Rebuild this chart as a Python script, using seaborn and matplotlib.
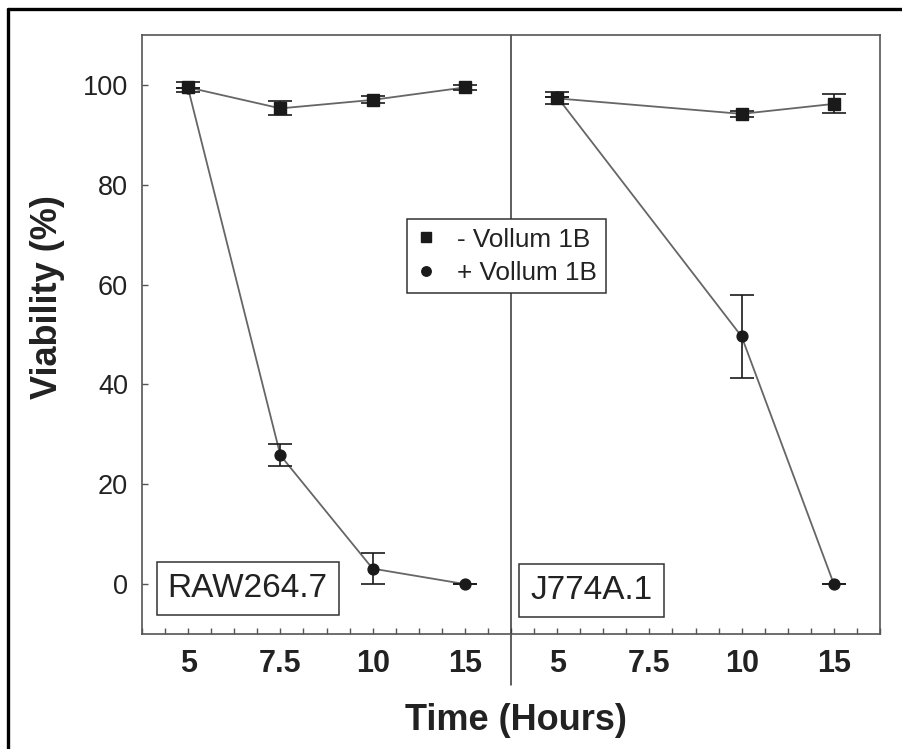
import numpy as np
import pandas as pd
import matplotlib
matplotlib.use("Agg")
import matplotlib.pyplot as plt
import matplotlib.transforms as mtransforms
from matplotlib.ticker import MultipleLocator
from matplotlib.lines import Line2D
import seaborn as sns

# ---------------- data ----------------
categories = ["5", "7.5", "10", "15"]
panels = ["RAW264.7", "J774A.1"]
series = ["- Vollum 1B", "+ Vollum 1B"]

raw_minus = [99.5, 95.3, 97.0, 99.5]
raw_minus_err = [1.0, 1.4, 0.7, 0.5]
raw_plus = [99.3, 25.8, 3.1, 0.0]
raw_plus_err = [0.0, 2.2, 3.1, 0.0]

j774_minus = [97.3, np.nan, 94.2, 96.2]
j774_minus_err = [1.2, np.nan, 0.6, 1.9]
j774_plus = [97.6, np.nan, 49.6, 0.0]
j774_plus_err = [0.0, np.nan, 8.4, 0.0]

values = {
    ("RAW264.7", "- Vollum 1B"): (raw_minus, raw_minus_err),
    ("RAW264.7", "+ Vollum 1B"): (raw_plus, raw_plus_err),
    ("J774A.1", "- Vollum 1B"): (j774_minus, j774_minus_err),
    ("J774A.1", "+ Vollum 1B"): (j774_plus, j774_plus_err),
}

rows = []
for p_i, p in enumerate(panels):
    for s in series:
        v, e = values[(p, s)]
        for c_i, c in enumerate(categories):
            rows.append(dict(panel=p, series=s, time=c,
                             pos=p_i * len(categories) + c_i,
                             viability=v[c_i], err=e[c_i]))
df = pd.DataFrame(rows).dropna()

# ---------------- style ----------------
sns.set_style("white")
plt.rcParams["font.family"] = ["Liberation Sans", "DejaVu Sans"]

fig = plt.figure(figsize=(9.02, 7.49), dpi=100)
W, H = 902, 749
ax = fig.add_axes([142 / W, 1 - 634 / H, 738 / W, 599 / H])

spine_col = "#555555"
line_col = "#666666"
markers = {"- Vollum 1B": "s", "+ Vollum 1B": "o"}
msize = {"- Vollum 1B": 8.8, "+ Vollum 1B": 7.8}

for s in ["+ Vollum 1B", "- Vollum 1B"]:
    for p in panels:
        sub = df[(df.series == s) & (df.panel == p)]
        sns.lineplot(data=sub, x="pos", y="viability", color=line_col,
                     lw=1.3, ax=ax, estimator=None, sort=False, zorder=2)
        ax.errorbar(sub["pos"], sub["viability"], yerr=sub["err"],
                    fmt=markers[s], ms=msize[s], color="#1a1a1a",
                    ecolor="#1a1a1a", elinewidth=1.2, capsize=8.3,
                    capthick=1.2, zorder=3)

ax.set_xlim(-0.5, 2 * len(categories) - 0.5)
ax.set_ylim(-10, 110)
ax.set_xticks(range(2 * len(categories)))
ax.set_xticklabels(categories * 2, fontsize=22, fontweight="bold",
                   color="#222222")
ax.xaxis.set_minor_locator(MultipleLocator(0.25))
ax.set_yticks([0, 20, 40, 60, 80, 100])
ax.tick_params(axis="x", which="both", direction="in", length=4,
               width=1, color=spine_col, pad=11, bottom=True, top=False)
ax.tick_params(axis="y", which="major", direction="in", length=4, width=1,
               color=spine_col, labelsize=19.5, labelcolor="#222222", pad=10,
               left=True, right=False)
for sp in ax.spines.values():
    sp.set_color(spine_col)
    sp.set_linewidth(1.2)
    sp.set_visible(True)

ax.set_xlabel("Time (Hours)", fontsize=26, fontweight="bold",
              color="#222222", labelpad=16)
ax.xaxis.set_label_coords(0.507, -0.115)
ax.set_ylabel("Viability (%)", fontsize=26, fontweight="bold",
              color="#222222")
ax.yaxis.set_label_coords(-0.104, 0.563)

# divider between panels
trans = mtransforms.blended_transform_factory(ax.transData, ax.transAxes)
ax.plot([len(categories) - 0.5] * 2, [-0.085, 1.0], transform=trans,
        color="#333333", lw=1.1, clip_on=False, zorder=1)

# panel labels
ax.text(0.143, 0.076, panels[0], transform=ax.transAxes, ha="center",
        va="center", fontsize=24, color="#222222",
        bbox=dict(boxstyle="square,pad=0.33", fc="white", ec="#333333", lw=1.1))
ax.text(0.609, 0.072, panels[1], transform=ax.transAxes, ha="center",
        va="center", fontsize=24, color="#222222",
        bbox=dict(boxstyle="square,pad=0.33", fc="white", ec="#333333", lw=1.1))

# legend
handles = [Line2D([], [], ls="none", marker=markers[s], ms=msize[s] - 1.0,
                  color="#1a1a1a") for s in series]
leg = ax.legend(handles, series, loc="upper left",
                bbox_to_anchor=(0.359, 0.693), borderaxespad=0,
                fontsize=18.8, frameon=True, fancybox=False, framealpha=1,
                edgecolor="#333333", handlelength=0.8, handletextpad=0.8,
                labelspacing=0.35, borderpad=0.33)
leg.get_frame().set_linewidth(1.1)
for t in leg.get_texts():
    t.set_color("#222222")

# outer border (left and top visible)
fig.add_artist(Line2D([8 / W, 8 / W], [0, 1 - 9 / H], transform=fig.transFigure,
                      color="black", lw=2.4))
fig.add_artist(Line2D([8 / W, 1.0], [1 - 9 / H, 1 - 9 / H],
                      transform=fig.transFigure, color="black", lw=2.4))

fig.savefig("out.png", dpi=100)
